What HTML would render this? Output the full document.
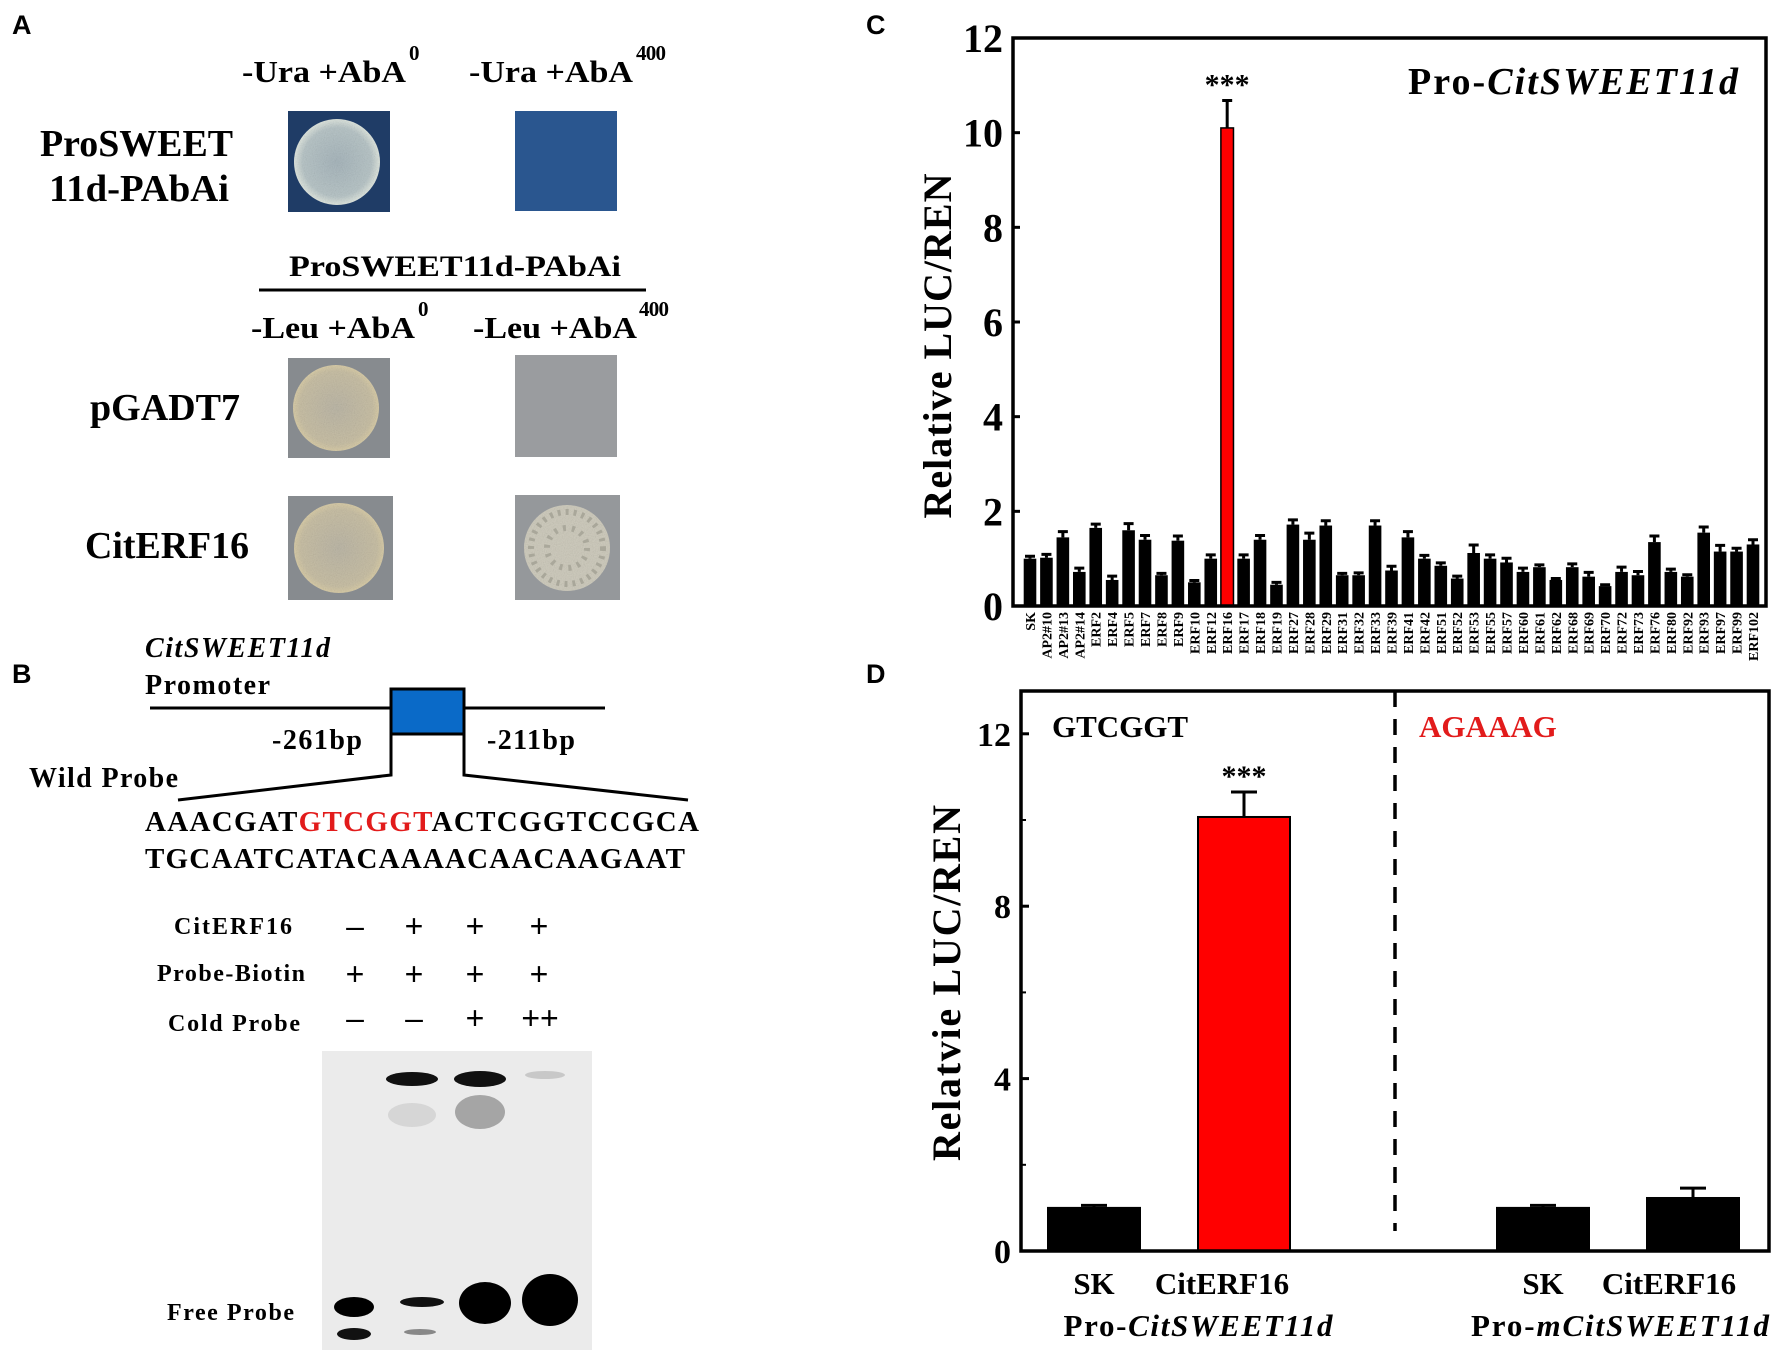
<!DOCTYPE html>
<html><head><meta charset="utf-8">
<style>
html,body{margin:0;padding:0;background:#fff;}
svg{display:block;}
.s{font-family:"Liberation Serif",serif;font-weight:bold;fill:#000;}
.p{font-family:"Liberation Sans",sans-serif;font-weight:bold;fill:#000;font-size:27px;}
</style></head>
<body>
<svg id="fig" width="1775" height="1350" viewBox="0 0 1775 1350" xmlns="http://www.w3.org/2000/svg">
<defs>
<filter id="grain"><feTurbulence type="fractalNoise" baseFrequency="0.9" numOctaves="2" result="n"/><feColorMatrix type="saturate" values="0"/><feComponentTransfer><feFuncA type="linear" slope="0.35"/></feComponentTransfer><feComposite in2="SourceGraphic" operator="in"/><feBlend in="SourceGraphic" mode="multiply"/></filter>
<radialGradient id="cw" cx="50%" cy="50%" r="50%"><stop offset="0" stop-color="#a9b7bd"/><stop offset="0.8" stop-color="#b9c6c8"/><stop offset="1" stop-color="#dfe6df"/></radialGradient>
<radialGradient id="cb" cx="50%" cy="50%" r="50%"><stop offset="0" stop-color="#bdb8a8"/><stop offset="0.85" stop-color="#c9c0a6"/><stop offset="1" stop-color="#d8cca8"/></radialGradient>
</defs>

<!-- Panel A -->
<g>
<text class="p" x="12" y="34">A</text>
<text class="s" x="242" y="82" font-size="31" textLength="164" lengthAdjust="spacingAndGlyphs">-Ura +AbA</text>
<text class="s" x="409" y="60" font-size="21">0</text>
<text class="s" x="469" y="82" font-size="31" textLength="164" lengthAdjust="spacingAndGlyphs">-Ura +AbA</text>
<text class="s" x="636" y="60" font-size="21" textLength="30">400</text>
<text class="s" x="233" y="156" font-size="38" text-anchor="end" textLength="193" lengthAdjust="spacingAndGlyphs">ProSWEET</text>
<text class="s" x="229" y="201" font-size="38" text-anchor="end" textLength="180" lengthAdjust="spacingAndGlyphs">11d-PAbAi</text>
<g>
<rect x="288" y="111" width="102" height="101" fill="#1f3c66"/>
<circle cx="337" cy="162" r="43" fill="url(#cw)" filter="url(#grain)"/>
</g>
<rect x="515" y="111" width="102" height="100" fill="#2a568f"/>
<text class="s" x="289" y="276" font-size="30" textLength="332" lengthAdjust="spacingAndGlyphs">ProSWEET11d-PAbAi</text>
<line x1="259" y1="290" x2="646" y2="290" stroke="#000" stroke-width="3"/>
<text class="s" x="251" y="338" font-size="31" textLength="164" lengthAdjust="spacingAndGlyphs">-Leu +AbA</text>
<text class="s" x="418" y="316" font-size="21">0</text>
<text class="s" x="473" y="338" font-size="31" textLength="164" lengthAdjust="spacingAndGlyphs">-Leu +AbA</text>
<text class="s" x="639" y="316" font-size="21" textLength="30">400</text>
<text class="s" x="240" y="420" font-size="38" text-anchor="end" textLength="150" lengthAdjust="spacingAndGlyphs">pGADT7</text>
<g>
<rect x="288" y="358" width="102" height="100" fill="#878b8f"/>
<circle cx="336" cy="408" r="43" fill="url(#cb)" filter="url(#grain)"/>
</g>
<rect x="515" y="355" width="102" height="102" fill="#9a9c9f"/>
<text class="s" x="249" y="558" font-size="38" text-anchor="end" textLength="164" lengthAdjust="spacingAndGlyphs">CitERF16</text>
<g>
<rect x="288" y="496" width="105" height="104" fill="#878b8f"/>
<circle cx="339" cy="548" r="45" fill="url(#cb)" filter="url(#grain)"/>
</g>
<g>
<rect x="515" y="495" width="105" height="105" fill="#95989b"/>
<circle cx="567" cy="548" r="43" fill="#cfccbe" filter="url(#grain)"/>
<circle cx="567" cy="548" r="36" fill="none" stroke="#a9a79a" stroke-width="6" stroke-dasharray="3 5"/>
<circle cx="567" cy="548" r="20" fill="none" stroke="#aaa89b" stroke-width="6" stroke-dasharray="3 6"/>
</g>
</g>

<!-- Panel B -->
<g>
<text class="p" x="12" y="683">B</text>
<text class="s" x="145" y="657" font-size="28" font-style="italic" textLength="185">CitSWEET11d</text>
<text class="s" x="145" y="694" font-size="28" textLength="125">Promoter</text>
<line x1="150" y1="708" x2="605" y2="708" stroke="#000" stroke-width="3"/>
<rect x="391" y="689" width="73" height="45" fill="#0a6ac8" stroke="#000" stroke-width="3"/>
<polyline points="178,800 391,775 391,734" fill="none" stroke="#000" stroke-width="3"/>
<polyline points="688,800 464,775 464,734" fill="none" stroke="#000" stroke-width="3"/>
<text class="s" x="272" y="749" font-size="28" textLength="90">-261bp</text>
<text class="s" x="487" y="749" font-size="28" textLength="88">-211bp</text>
<text class="s" x="29" y="787" font-size="28" textLength="149">Wild Probe</text>
<text class="s" x="145" y="831" font-size="29" textLength="554">AAACGAT<tspan fill="#e21b1b">GTCGGT</tspan>ACTCGGTCCGCA</text>
<text class="s" x="145" y="868" font-size="29" textLength="540">TGCAATCATACAAAACAACAAGAAT</text>
<text class="s" x="174" y="934" font-size="24" textLength="118">CitERF16</text>
<text class="s" x="157" y="981" font-size="24" textLength="148">Probe-Biotin</text>
<text class="s" x="168" y="1031" font-size="24" textLength="132">Cold Probe</text>
<g font-family="Liberation Sans, sans-serif" font-size="32" text-anchor="middle" fill="#000">
<text x="355" y="937">–</text><text x="414" y="937">+</text><text x="475" y="937">+</text><text x="539" y="937">+</text>
<text x="355" y="985">+</text><text x="414" y="985">+</text><text x="475" y="985">+</text><text x="539" y="985">+</text>
<text x="355" y="1029">–</text><text x="414" y="1029">–</text><text x="475" y="1029">+</text><text x="540" y="1029">++</text>
</g>
<g>
<rect x="322" y="1051" width="270" height="299" fill="#ebebeb"/>
<ellipse cx="412" cy="1079" rx="26" ry="7" fill="#111"/>
<ellipse cx="480" cy="1079" rx="26" ry="8" fill="#111"/>
<ellipse cx="545" cy="1075" rx="20" ry="4" fill="#c8c8c8"/>
<ellipse cx="412" cy="1115" rx="24" ry="12" fill="#d6d6d6"/>
<ellipse cx="480" cy="1112" rx="25" ry="17" fill="#a5a5a5"/>
<ellipse cx="354" cy="1307" rx="20" ry="10" fill="#000"/>
<ellipse cx="354" cy="1334" rx="17" ry="6" fill="#111"/>
<ellipse cx="422" cy="1302" rx="22" ry="5" fill="#111"/>
<ellipse cx="420" cy="1332" rx="16" ry="3" fill="#888"/>
<ellipse cx="485" cy="1303" rx="26" ry="21" fill="#000"/>
<ellipse cx="550" cy="1300" rx="28" ry="26" fill="#000"/>
</g>
<text class="s" x="167" y="1320" font-size="24" textLength="127">Free Probe</text>
</g>

<!-- Panel C -->
<g id="chartC">
<text class="p" x="866" y="34">C</text>
</g>
<!-- Panel D -->
<g id="chartD">
<text class="p" x="866" y="683">D</text>
</g>
</svg>

<script>
const catsC = ["SK","AP2#10","AP2#13","AP2#14","ERF2","ERF4","ERF5","ERF7","ERF8","ERF9","ERF10","ERF12","ERF16","ERF17","ERF18","ERF19","ERF27","ERF28","ERF29","ERF31","ERF32","ERF33","ERF39","ERF41","ERF42","ERF51","ERF52","ERF53","ERF55","ERF57","ERF60","ERF61","ERF62","ERF68","ERF69","ERF70","ERF72","ERF73","ERF76","ERF80","ERF92","ERF93","ERF97","ERF99","ERF102"];
const valsC = [1.0,1.02,1.45,0.72,1.65,0.55,1.6,1.4,0.65,1.38,0.5,1.0,10.1,1.0,1.4,0.45,1.72,1.4,1.7,0.65,0.65,1.7,0.75,1.45,1.0,0.85,0.58,1.12,1.0,0.92,0.72,0.82,0.55,0.82,0.62,0.42,0.72,0.65,1.35,0.72,0.62,1.55,1.15,1.15,1.3];
const errsC = [0.05,0.07,0.12,0.08,0.08,0.08,0.14,0.09,0.04,0.1,0.04,0.08,0.58,0.08,0.09,0.05,0.1,0.14,0.1,0.04,0.05,0.1,0.09,0.12,0.07,0.06,0.05,0.17,0.08,0.09,0.08,0.05,0.03,0.07,0.09,0.03,0.1,0.08,0.13,0.06,0.04,0.12,0.13,0.07,0.1];
const ticksC = [0,2,4,6,8,10,12];
const highlightC = "ERF16";

const catsD = ["SK","CitERF16","SK","CitERF16"];
const valsD = [1.0,10.07,1.0,1.23];
const errsD = [0.06,0.58,0.06,0.23];
const ticksD = [0,4,8,12];
const minorD = [2,6,10];
const groupD = ["Pro-CitSWEET11d","Pro-mCitSWEET11d"];

const NS = "http://www.w3.org/2000/svg";
function mk(tag, attrs, parent, txt){
  const e = document.createElementNS(NS, tag);
  for (const k in attrs) e.setAttribute(k, attrs[k]);
  if (txt !== undefined) e.textContent = txt;
  parent.appendChild(e);
  return e;
}

// ---- Chart C ----
(function(){
  const g = document.getElementById('chartC');
  const L=1013, R=1766, T=38, B=606, ymax=12;
  const yC = v => B - v*(B-T)/ymax;
  const x0 = 1030, step = (1753-1030)/(catsC.length-1);
  const xC = i => x0 + i*step;
  const bw = 12.6;
  catsC.forEach((c,i)=>{
    const cx = xC(i), v = valsC[i], e = errsC[i];
    const red = c===highlightC;
    const bar = mk('rect',{x:cx-bw/2,y:yC(v),width:bw,height:B-yC(v),fill:red?'#ff0000':'#000',stroke:'#000','stroke-width':red?1.5:0},g);
    
    
    const eb = mk('path',{d:`M${cx} ${yC(v)} V${yC(v+e)} M${cx-5} ${yC(v+e)} H${cx+5}`,stroke:'#000','stroke-width':3,fill:'none'},g);
    
    
    const t = mk('text',{class:'s',x:0,y:0,'font-size':14,'text-anchor':'end',transform:`translate(${cx+5},${B+6}) rotate(-90)`},g,c);
    
    
  });
  const fr = mk('rect',{x:L,y:T,width:R-L,height:B-T,fill:'none',stroke:'#000','stroke-width':3.5},g);
  
  
  ticksC.forEach(v=>{
    const tk = mk('line',{x1:L,x2:L+7,y1:yC(v),y2:yC(v),stroke:'#000','stroke-width':3},g);
    
    
    const tl = mk('text',{class:'s',x:L-10,y:yC(v)+14,'font-size':40,'text-anchor':'end'},g,String(v));
    
    
  });
  const yt = mk('text',{class:'s','font-size':40,'text-anchor':'middle',textLength:345,transform:`translate(951,346) rotate(-90)`},g,'Relative LUC/REN');
  
  
  const hi = catsC.indexOf(highlightC);
  const st = mk('text',{class:'s','font-size':30,'font-weight':'normal','text-anchor':'middle',x:xC(hi),y:yC(valsC[hi]+errsC[hi])-6},g,'***');
  
  
  const ti = mk('text',{class:'s','font-size':38,x:1408,y:94,textLength:330},g);
  
  
  mk('tspan',{},ti,'Pro-');
  mk('tspan',{'font-style':'italic'},ti,'CitSWEET11d');
})();

// ---- Chart D ----
(function(){
  const g = document.getElementById('chartD');
  const L=1021, R=1769, T=691, B=1251;
  const yD = v => B - v*43.1;
  const xs = [1094,1244,1543,1693];
  const bw = 92;
  const dl = mk('line',{x1:1395,x2:1395,y1:T,y2:1231,stroke:'#000','stroke-width':3.5,'stroke-dasharray':'16 12'},g);
  
  
  catsD.forEach((c,i)=>{
    const v = valsD[i], e = errsD[i], cx = xs[i];
    const red = (i===1);
    const bar = mk('rect',{x:cx-bw/2,y:yD(v),width:bw,height:B-yD(v),fill:red?'#ff0000':'#000',stroke:'#000','stroke-width':2},g);
    
    
    const eb = mk('path',{d:`M${cx} ${yD(v)} V${yD(v+e)} M${cx-13} ${yD(v+e)} H${cx+13}`,stroke:'#000','stroke-width':3,fill:'none'},g);
    
    
  });
  const fr = mk('rect',{x:L,y:T,width:R-L,height:B-T,fill:'none',stroke:'#000','stroke-width':3.5},g);
  
  
  ticksD.forEach(v=>{
    const tk = mk('line',{x1:L,x2:L+8,y1:yD(v),y2:yD(v),stroke:'#000','stroke-width':3},g);
    
    
    const tl = mk('text',{class:'s',x:L-10,y:yD(v)+12,'font-size':34,'text-anchor':'end'},g,String(v));
    
    
  });
  minorD.forEach(v=>{
    const tk = mk('line',{x1:L,x2:L+5,y1:yD(v),y2:yD(v),stroke:'#000','stroke-width':2},g);
    
    
  });
  const yt = mk('text',{class:'s','font-size':40,'text-anchor':'middle',textLength:356,transform:`translate(960,983) rotate(-90)`},g,'Relatvie LUC/REN');
  
  
  const lx = [1094,1222,1543,1669];
  catsD.forEach((c,i)=>{
    const t = mk('text',{class:'s','font-size':31,'text-anchor':'middle',x:lx[i],y:1294},g,c);
    
    
  });
  const gx = [1198,1620];
  const gw = [269,298];
  groupD.forEach((s,i)=>{
    const t = mk('text',{class:'s','font-size':31,'text-anchor':'middle',x:gx[i],y:1336,textLength:gw[i]},g);
    
    
    mk('tspan',{},t,'Pro-');
    mk('tspan',{'font-style':'italic'},t,s.slice(4));
  });
  const st = mk('text',{class:'s','font-size':30,'font-weight':'normal','text-anchor':'middle',x:xs[1],y:yD(valsD[1]+errsD[1])-6},g,'***');
  
  
  const m1 = mk('text',{class:'s','font-size':31,x:1052,y:737},g,'GTCGGT');
  
  
  const m2 = mk('text',{class:'s','font-size':31,x:1419,y:737,style:'fill:#e21b1b'},g,'AGAAAG');
  
  
})();
</script>
</body></html>
